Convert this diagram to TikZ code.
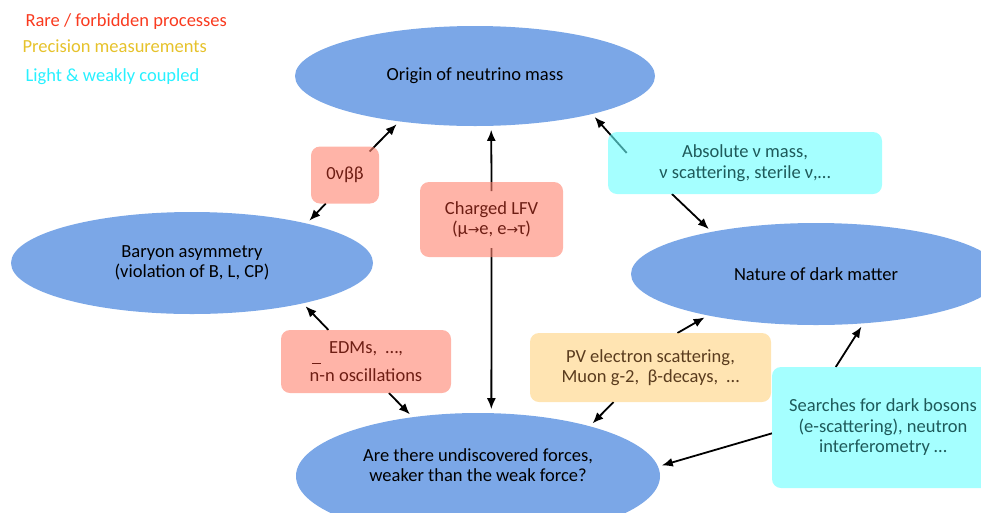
\documentclass[tikz,border=0pt]{standalone}
\usepackage{fontspec}
\setmainfont{Carlito}
\newfontfamily\arrowfont{DejaVu Sans}[Scale=0.75]
\usetikzlibrary{shapes.geometric, arrows.meta, backgrounds}
\definecolor{Blob}{HTML}{7BA7E7}
\definecolor{RareFill}{HTML}{FF826E}
\definecolor{RareText}{HTML}{6E1E14}
\definecolor{PrecFill}{HTML}{FFD27F}
\definecolor{PrecText}{HTML}{5A3C1E}
\definecolor{LightFill}{HTML}{69FFFF}
\definecolor{LightText}{HTML}{1E5A5A}
\definecolor{RareKey}{HTML}{F93A1F}
\definecolor{PrecKey}{HTML}{E6C22B}
\definecolor{LightKey}{HTML}{28F0FF}
\newcommand{\lfvto}{{\arrowfont →}}
\newcommand{\antin}{\makebox[0pt][l]{\hspace{0.12em}\raisebox{0.95em}{\rule{0.5em}{0.07em}}}n}
\tikzset{
    bigtext/.style={font=\fontsize{18.5}{20.5}\selectfont, align=center},
    blob/.style={ellipse, fill=Blob, inner sep=0pt, outer sep=0pt, bigtext},
    probe/.style={rectangle, rounded corners=9pt, fill opacity=0.6, text opacity=1, inner sep=2pt, outer sep=0pt, bigtext},
    rare/.style={probe, fill=RareFill, text=RareText},
    prec/.style={probe, fill=PrecFill, text=PrecText},
    light/.style={probe, fill=LightFill, text=LightText},
    key/.style={anchor=base west, font=\fontsize{18.5}{20.5}\selectfont},
    arrow/.style={-{Latex[length=11pt, width=9pt]}, line width=1.8pt, shorten >=4pt},
}

\begin{document}
\begin{tikzpicture}[x=1pt, y=-1pt]
    \useasboundingbox (0,0) rectangle (981,512);
    \clip (0,0) rectangle (981,512);

    % legend
    \node[key, text=RareKey] (keyrare) at (22,26) {Rare / forbidden processes};
    \node[key, text=PrecKey] (keyprec) at (19,52) {Precision measurements};
    \node[key, text=LightKey] (keylight) at (22,81) {Light \& weakly coupled};

    % big questions
    \node[blob, minimum width=360pt, minimum height=100pt] (origin) at (475,76) {Origin of neutrino mass};
    \node[blob, minimum width=362pt, minimum height=102pt] (baryon) at (192,263) {Baryon asymmetry\\(violation of B, L, CP)};
    \node[blob, minimum width=370pt, minimum height=102pt] (dark) at (816,274) {Nature of dark matter};
    \node[blob, minimum width=364pt, minimum height=126pt, text depth=22pt] (forces) at (478,476) {Are there undiscovered forces,\\weaker than the weak force?};

    % probes
    \node[rare, minimum width=68pt, minimum height=57pt] (zbb) at (345,175) {0νββ};
    \node[rare, minimum width=143pt, minimum height=75pt] (lfv) at (491.5,219.5) {Charged LFV\\(μ\lfvto e, e\lfvto τ)};
    \node[light, minimum width=274pt, minimum height=62pt] (absnu) at (745,163) {Absolute ν mass,\\ν scattering, sterile ν,…};
    \node[rare, minimum width=170pt, minimum height=63pt] (edm) at (366,361.5) {EDMs,\ \ …,\\[6pt]\antin-n oscillations};
    \node[prec, minimum width=241pt, minimum height=69pt] (pv) at (650.5,367.5) {PV electron scattering,\\Muon g-2,\ \ β-decays,\ \ …};
    \node[light, minimum width=222pt, minimum height=121pt] (dbos) at (883,427.5) {Searches for dark bosons\\(e-scattering), neutron\\interferometry …};

    % links
    \begin{scope}[on background layer]
        \foreach \from/\to/\ext in {zbb.44/origin.211/7, zbb.236/baryon.19/0,
                lfv.north/origin.288/9, lfv.south/forces.78/9,
                absnu.north west/origin.342/28, absnu.203/dark.158/0,
                edm.140/baryon.340/0, edm.306/forces.138/0,
                pv.52/dark.201/0, pv.223/forces.24/0,
                dbos.128/dark.314/0, dbos.183/forces.3/0}
            \draw[arrow, shorten <=-\ext pt] (\from) -- (\to);
    \end{scope}
\end{tikzpicture}
\end{document}
